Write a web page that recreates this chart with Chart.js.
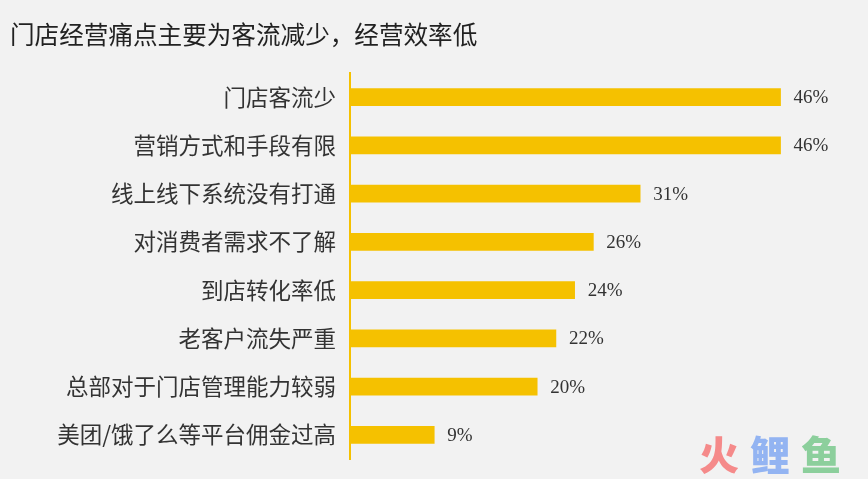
<!DOCTYPE html>
<html>
<head>
<meta charset="utf-8">
<script src="https://cdn.jsdelivr.net/npm/chart.js@4/dist/chart.umd.min.js"></script>
<style>
  html, body { margin: 0; padding: 0; background: #f2f2f2; }
  #wrap { position: relative; width: 868px; height: 479px; }
  #mark { position: absolute; left: 699px; top: 433px; font: 900 40px/1 "Noto Sans CJK SC"; letter-spacing: 11px; }
</style>
</head>
<body>
<div id="wrap">
  <canvas id="chartCanvas" width="868" height="479"></canvas>
  <div id="mark"><span style="color:#f58a8a">火</span><span style="color:#93b4f2">鲤</span><span style="color:#8ccf9c">鱼</span></div>
</div>
<script>
// data
const titleText = '门店经营痛点主要为客流减少，经营效率低';
const categories = ['门店客流少', '营销方式和手段有限', '线上线下系统没有打通', '对消费者需求不了解',
    '到店转化率低', '老客户流失严重', '总部对于门店管理能力较弱', '美团/饿了么等平台佣金过高'];
const values = [46, 46, 31, 26, 24, 22, 20, 9];

const barColor = '#f5c100';

// value labels at the end of each bar
const valueLabels = {
    id: 'valueLabels',
    afterDatasetsDraw(chart) {
        const ctx = chart.ctx;
        const meta = chart.getDatasetMeta(0);
        ctx.save();
        ctx.font = '19px "Liberation Serif", "DejaVu Serif", serif';
        ctx.fillStyle = '#333';
        ctx.textBaseline = 'middle';
        meta.data.forEach((bar, i) => {
            ctx.fillText(values[i] + '%', bar.x + 13, bar.y + 1);
        });
        ctx.restore();
    }
};

const chart = new Chart(document.getElementById('chartCanvas'), {
    type: 'bar',
    data: {
        labels: categories,
        datasets: [{
            data: values,
            backgroundColor: barColor,
            barThickness: 17,
            borderWidth: 0,
        }],
    },
    options: {
        indexAxis: 'y',
        responsive: false,
        animation: false,
        layout: { padding: { left: 10, right: 50, top: 0, bottom: 20 } },
        plugins: {
            legend: { display: false },
            tooltip: { enabled: false },
            title: {
                display: true,
                text: titleText,
                align: 'start',
                color: '#222',
                font: { family: '"Noto Sans CJK SC"', size: 24.6, weight: 'normal', lineHeight: 1.2 },
                padding: { top: 20, bottom: 23.5 },
            },
        },
        scales: {
            x: {
                display: false,
                min: 0,
                max: 50,
            },
            y: {
                grid: { display: false, drawTicks: false },
                border: { display: true, color: barColor, width: 2 },
                ticks: {
                    color: '#333',
                    padding: 14,
                    font: { family: '"Noto Sans CJK SC"', size: 22.5 },
                },
                afterFit(scale) {
                    scale.width = 340;
                    scale.paddingTop = 0;
                    scale.paddingBottom = 0;
                },
            },
        },
    },
    plugins: [valueLabels],
});
</script>
</body>
</html>
